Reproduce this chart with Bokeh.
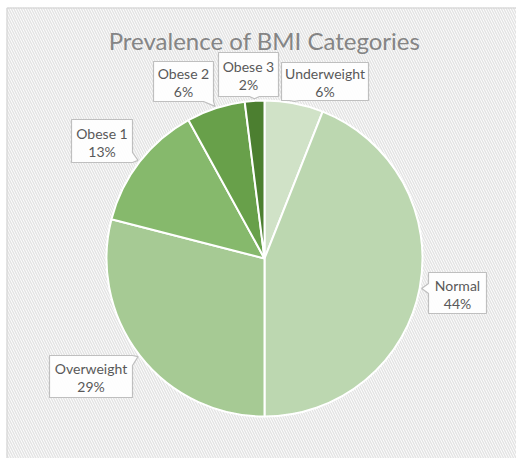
import math
from bokeh.plotting import figure
from bokeh.models import Range1d, ColumnDataSource
from bokeh.core.properties import value
from bokeh.embed import file_html
from bokeh.resources import INLINE

# ---- data ----
categories = ["Underweight", "Normal", "Overweight", "Obese 1", "Obese 2", "Obese 3"]
percents = [6, 44, 29, 13, 6, 2]
colors = ["#d0e2c7", "#bcd7b0", "#a6ca94", "#86b96c", "#68a04a", "#4c7f30"]
title_text = "Prevalence of BMI Categories"

# ---- layout (page pixel coords, y downward) ----
W, H = 516, 458
CX, CY, R = 264, 258, 158
# label box: left, top, width, height
boxes = {
    "Underweight": (281, 62, 87, 38),
    "Normal": (428, 272, 58, 41),
    "Overweight": (49, 355, 83, 42),
    "Obese 1": (71, 119, 61, 43),
    "Obese 2": (153, 61, 60, 40),
    "Obese 3": (218, 52, 60, 44),
}


def dy(py):
    return H - py  # page y -> data y


p = figure(width=W, height=H, output_backend="svg", toolbar_location=None,
           x_range=Range1d(0, W), y_range=Range1d(0, H),
           min_border=0)
p.axis.visible = False
p.grid.visible = False
p.outline_line_color = None
p.background_fill_color = "white"
p.border_fill_color = "white"

# hatched chart-area background
p.quad(left=6, right=W, bottom=0, top=dy(7), fill_color="white",
       line_color=None, hatch_pattern="\\", hatch_color="#e4e4e4",
       hatch_scale=5, hatch_weight=1.5)
# chart border (left/top visible)
p.line(x=[6.5, 6.5, W], y=[0, dy(7.5), dy(7.5)],
       line_color="#d0d0d0", line_width=1)

# title
p.text(x=[CX], y=[dy(40)], text=[title_text], text_align="center",
       text_baseline="middle", text_font=value("Lato"),
       text_font_size="24px", text_color="#858585")

# wedges
total = sum(percents)
starts, ends, mids = [], [], []
cum = 0.0
for v in percents:
    a0 = math.pi / 2 - 2 * math.pi * cum / total
    cum += v
    a1 = math.pi / 2 - 2 * math.pi * cum / total
    starts.append(a0)
    ends.append(a1)
    mids.append((a0 + a1) / 2)

src = ColumnDataSource(dict(start=starts, end=ends, color=colors, cat=categories))
p.wedge(x=CX, y=dy(CY), radius=R, start_angle="start", end_angle="end",
        direction="clock", fill_color="color", line_color="white",
        line_width=2, source=src)


def callout(l, t, w, h, tx, ty, pw=10):
    r, b = l + w, t + h
    if ty > b:
        cx = min(max(tx, l + pw / 2), r - pw / 2)
        pts = [(l, t), (r, t), (r, b), (cx + pw / 2, b), (tx, ty), (cx - pw / 2, b), (l, b)]
    elif ty < t:
        cx = min(max(tx, l + pw / 2), r - pw / 2)
        pts = [(l, t), (cx - pw / 2, t), (tx, ty), (cx + pw / 2, t), (r, t), (r, b), (l, b)]
    elif tx > r:
        cy = min(max(ty, t + pw / 2), b - pw / 2)
        pts = [(l, t), (r, t), (r, cy - pw / 2), (tx, ty), (r, cy + pw / 2), (r, b), (l, b)]
    else:
        cy = min(max(ty, t + pw / 2), b - pw / 2)
        pts = [(l, t), (r, t), (r, b), (l, b), (l, cy + pw / 2), (tx, ty), (l, cy - pw / 2)]
    return [q[0] for q in pts], [dy(q[1]) for q in pts]


xs, ys, nx, ny, px_, py_, names, pcts = [], [], [], [], [], [], [], []
for cat, v, m in zip(categories, percents, mids):
    tx = CX + (R + 2) * math.cos(m)
    ty = CY - (R + 2) * math.sin(m)
    l, t, w, h = boxes[cat]
    X, Y = callout(l, t, w, h, tx, ty)
    xs.append(X)
    ys.append(Y)
    cxm = l + w / 2
    cym = t + h / 2
    nx.append(cxm)
    ny.append(dy(cym - 8))
    names.append(cat)
    px_.append(cxm)
    py_.append(dy(cym + 10))
    pcts.append(f"{v}%")

p.patches(xs=xs, ys=ys, fill_color="white", fill_alpha=0.9,
          line_color="#bfbfbf", line_width=1.2)
p.text(x=nx, y=ny, text=names, text_align="center", text_baseline="middle",
       text_font=value("Lato"), text_font_size="14px", text_color="#595959")
p.text(x=px_, y=py_, text=pcts, text_align="center", text_baseline="middle",
       text_font=value("Lato"), text_font_size="14px", text_color="#595959")

open("out.html", "w").write(file_html(p, INLINE))
